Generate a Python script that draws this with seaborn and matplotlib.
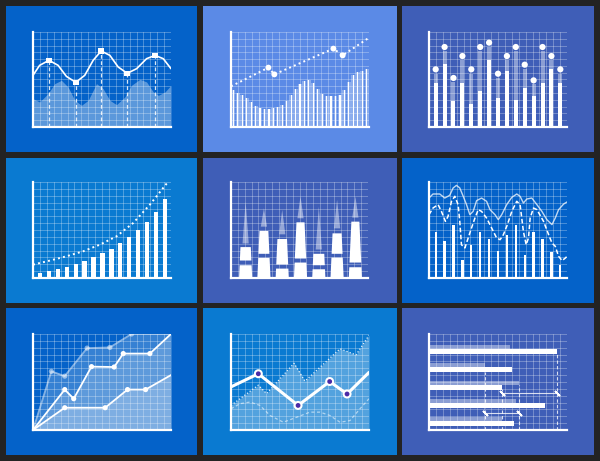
import numpy as np
import pandas as pd
import matplotlib
matplotlib.use("Agg")
import matplotlib.pyplot as plt
from matplotlib.patches import Rectangle
import seaborn as sns

sns.set_theme(style="white")

W, H = 600, 461
BG = "#232323"

# panel colours, row by row
panel_colors = ["#0462c9", "#5b8ae6", "#3f5eb7",
                "#0a7ad1", "#3f5eb7", "#0462c9",
                "#0462c9", "#0a7ad1", "#3f5eb7"]

## panel 1 - wave line + wavy area
p1_line_x = [0, 4.8, 11.6, 18.2, 24.2, 31.0, 37.5, 43.6, 49.4, 55.7, 61.7, 68.3, 75.1, 82.3, 88.4, 94.4, 100]
p1_line_y = [54.4, 64.9, 70.2, 64.9, 53.3, 47.0, 54.4, 70.2, 80.0, 75.4, 63.2, 56.5, 61.4, 71.9, 75.4, 71.9, 61.4]
p1_mark_x = [11.6, 31.0, 49.4, 68.3, 88.4]
p1_mark_y = [70.2, 47.0, 80.0, 56.5, 75.4]
p1_area_x = [0, 4.8, 10.9, 15.7, 20.6, 25.4, 30.3, 35.1, 40.0, 46.0, 50.8, 55.7, 60.5, 66.6, 71.4, 77.5, 82.3, 87.2, 90.8, 95.6, 100]
p1_area_y = [29.8, 26.3, 35.1, 45.6, 49.1, 42.1, 28.1, 22.8, 28.1, 45.6, 40.4, 28.1, 23.5, 31.6, 43.9, 50.2, 47.4, 36.8, 33.3, 36.8, 43.9]

## panel 2 - thin bars + dotted trend
p2_bars = [38.6, 36.1, 33.3, 30.9, 26.0, 22.5, 20.4, 19.3, 19.3, 20.0, 21.1, 23.5, 27.4, 33.3, 40.4, 45.6,
           48.4, 49.1, 46.7, 40.4, 35.1, 32.6, 32.3, 32.3, 34.0, 38.6, 47.4, 54.4, 57.9, 58.9, 60.7]
p2_trend_x = [0, 27.1, 31.4, 74.2, 80.9, 100]
p2_trend_y = [42.8, 62.5, 55.4, 82.5, 75.4, 94.0]

## panel 3 - bars with pale caps and dots
p3_solid = [46.7, 66.0, 27.4, 46.7, 23.9, 37.9, 70.2, 30.5, 58.6, 28.1, 41.1, 32.3, 46.7, 60.7, 46.7]
p3_pale = [56.1, 79.6, 47.4, 70.2, 56.1, 79.6, 84.2, 51.6, 70.2, 79.6, 61.4, 44.9, 79.6, 70.2, 56.1]
p3_dots = [60.7, 84.2, 51.6, 74.7, 60.7, 84.2, 88.8, 56.1, 74.7, 84.2, 65.6, 49.1, 84.2, 74.7, 60.7]

## panel 4 - growing bars + dotted curve
p4_bars = [5.2, 6.9, 9.4, 11.5, 14.6, 18.1, 21.5, 25.7, 30.6, 36.1, 42.7, 49.7, 58.7, 69.1, 82.6]
p4_curve_x = [0, 12.1, 24.2, 36.3, 48.4, 60.5, 72.6, 84.7, 97.6]
p4_curve_y = [13.9, 18.1, 22.6, 27.8, 34.7, 43.4, 57.3, 76.4, 99.7]

## panel 5 - towers
p5_base = [13.3, 21.0, 9.8, 16.1, 9.1, 21.3, 11.2]
p5_mid_lo = [18.2, 25.2, 14.0, 20.3, 13.3, 25.2, 16.1]
p5_mid_hi = [32.2, 49.0, 40.6, 58.0, 25.2, 46.5, 58.7]
p5_spike_lo = [36.0, 53.5, 45.5, 62.2, 29.7, 51.7, 62.9]
p5_tip = [79.7, 72.7, 71.0, 85.0, 74.5, 81.5, 85.0]

## panel 6 - bars + two wavy lines
p6_bars = [47.6, 38.9, 54.9, 19.1, 34.0, 47.6, 41.0, 27.8, 44.4, 54.9, 24.3, 47.6, 41.0, 27.1, 13.9]
p6_solid_x = [0, 2.9, 7.8, 11.4, 15.0, 17.5, 19.9, 22.3, 24.8, 27.2, 29.6, 32.0, 34.5, 38.1, 41.7, 44.2, 47.8,
              50.2, 52.7, 56.3, 60.0, 63.6, 66.0, 68.4, 70.9, 74.5, 78.2, 81.8, 85.4, 89.1, 91.5, 93.9, 97.6, 100]
p6_solid_y = [83.3, 87.5, 87.5, 83.3, 86.1, 93.8, 96.5, 93.8, 85.1, 76.4, 66.0, 69.4, 80.6, 83.3, 79.9, 71.2, 66.0,
              60.8, 66.0, 76.4, 84.0, 87.5, 85.1, 78.1, 82.3, 83.3, 76.4, 69.4, 60.8, 55.6, 62.5, 71.2, 77.1, 79.2]
p6_dash_x = [0, 2.9, 6.6, 9.0, 11.9, 13.8, 16.3, 18.7, 21.1, 22.3, 23.5, 26.0, 28.4, 30.8, 33.3, 35.7, 38.1,
             41.7, 45.4, 49.0, 51.5, 53.9, 56.8, 60.0, 63.6, 66.0, 68.4, 70.4, 72.1, 73.3, 75.7, 78.2, 83.0,
             86.7, 89.1, 91.5, 93.9, 96.4, 98.8, 100]
p6_dash_y = [66.0, 72.9, 76.4, 69.4, 59.0, 64.2, 79.9, 85.1, 76.4, 59.0, 34.7, 31.3, 41.7, 52.1, 62.5, 71.2, 69.4,
             62.5, 52.1, 41.7, 39.9, 45.1, 55.6, 69.4, 79.9, 76.4, 48.6, 34.7, 41.7, 62.5, 72.9, 71.2, 59.0,
             45.1, 36.5, 33.0, 22.6, 18.1, 20.8, 22.6]

## panel 7 - three rising areas
p7_top_x = [0, 13.3, 23.0, 39.2, 55.7, 71.4, 100]
p7_top_y = [0, 61.1, 56.1, 85.3, 86.0, 100, 100]
p7_mid_x = [0, 23.0, 29.5, 42.4, 58.8, 65.4, 84.7, 100]
p7_mid_y = [0, 42.1, 32.6, 66.0, 65.6, 79.6, 79.6, 100]
p7_low_x = [0, 23.0, 52.3, 68.5, 81.6, 100]
p7_low_y = [0, 23.2, 23.2, 42.1, 42.1, 57.2]

## panel 8 - zigzag area, thick line, dashed wave
p8_area_x = [0, 19.8, 25.8, 45.7, 53.6, 79.0, 90.6, 100]
p8_area_y = [25.6, 46.7, 37.9, 69.5, 50.9, 84.6, 78.2, 98.6]
p8_line_x = [0, 19.8, 48.6, 71.5, 84.1, 100]
p8_line_y = [44.9, 58.6, 25.6, 50.5, 37.5, 60.0]
p8_wave_x = [0, 6.5, 13.8, 21.0, 28.3, 37.9, 47.6, 57.2, 64.5, 71.7, 79.0, 86.2, 93.5, 100]
p8_wave_y = [22.1, 27.4, 29.1, 25.6, 15.1, 8.1, 13.3, 18.6, 18.6, 15.1, 8.1, 9.8, 22.1, 32.6]

## panel 9 - horizontal bar pairs
p9_groups = ["A", "B", "C", "D", "E"]
p9_pale = [58.7, 40.5, 65.3, 62.9, 52.7]
p9_solid = [92.7, 60.0, 52.7, 83.7, 61.9]
p9_guide_x = [40.5, 52.7, 65.3, 92.7]
p9_guide_top = [60.9, 42.3, 46.8, 79.6]
p9_span_y = [38.4, 17.3]
p9_span_lo = [52.7, 40.5]
p9_span_hi = [92.7, 65.3]

panels = [(6, 6, 197, 152), (203, 6, 397, 152), (402, 6, 594, 152),
          (6, 158, 197, 303), (203, 158, 397, 303), (402, 158, 594, 303),
          (6, 308, 197, 455), (203, 308, 397, 455), (402, 308, 594, 455)]
charts = [(33, 32, 171, 127), (231, 32, 369, 127), (429, 32, 567, 127),
          (33, 182, 171, 278), (231, 182, 368, 278), (429, 182, 567, 278),
          (33, 334, 171, 430), (231, 334, 369, 430), (429, 334, 567, 430)]


def rect(x0, y0, x1, y1):
    return [x0 / W, 1 - y1 / H, (x1 - x0) / W, (y1 - y0) / H]


def frame(box):
    ax = fig.add_axes(rect(*box))
    ax.set_facecolor("none")
    ax.set_xticks(np.linspace(0, 100, 21))
    ax.set_yticks(np.linspace(0, 100, 15))
    ax.tick_params(length=0, labelleft=False, labelbottom=False)
    ax.grid(True, color="white", alpha=0.33, lw=0.6)
    ax.set_axisbelow(True)
    for s in ["top", "right"]:
        ax.spines[s].set_visible(False)
    for s in ["left", "bottom"]:
        ax.spines[s].set_color("white")
        ax.spines[s].set_linewidth(1.6)
    frames.append(ax)
    return ax


def layer(box):
    ax = fig.add_axes(rect(*box))
    ax.set_facecolor("none")
    ax.axis("off")
    return ax


fig = plt.figure(figsize=(6, 4.61), dpi=100, facecolor=BG)
for (x0, y0, x1, y1), c in zip(panels, panel_colors):
    fig.add_artist(Rectangle((x0 / W, 1 - y1 / H), (x1 - x0) / W, (y1 - y0) / H,
                             transform=fig.transFigure, color=c, lw=0, zorder=-1))
frames = []
dash = (0, (3, 2))

# 1
ax = frame(charts[0])
ax.fill_between(p1_area_x, p1_area_y, color="white", alpha=0.35, lw=0)
ax.vlines(p1_mark_x, 0, p1_mark_y, colors="white", linestyles=dash, lw=0.9, alpha=0.85)
sns.lineplot(x=p1_line_x, y=p1_line_y, ax=ax, color="white", lw=1.2)
sns.scatterplot(x=p1_mark_x, y=p1_mark_y, ax=ax, color="white", marker="s", s=16, edgecolor="none", zorder=5)

# 2
ax = frame(charts[1])
bx = layer(charts[1])
cats = np.arange(len(p2_bars))
sns.barplot(x=cats, y=p2_bars, ax=bx, color="white", width=0.9, alpha=0.3, lw=0, saturation=1, errorbar=None)
sns.barplot(x=cats, y=p2_bars, ax=bx, color="white", width=0.28, lw=0, saturation=1, errorbar=None)
bx.set_xlim(-0.55, len(p2_bars) - 0.45)
bx.set_ylim(0, 100)
sns.lineplot(x=p2_trend_x, y=p2_trend_y, ax=ax, color="white", lw=1.4, ls=":")
sns.scatterplot(x=p2_trend_x[1:-1], y=p2_trend_y[1:-1], ax=ax, color="white", s=18, edgecolor="none", zorder=5)

# 3
ax = frame(charts[2])
bx = layer(charts[2])
cats = np.arange(len(p3_solid))
sns.barplot(x=cats, y=p3_pale, ax=bx, color="white", width=0.45, alpha=0.4, lw=0, saturation=1, errorbar=None)
sns.barplot(x=cats, y=p3_solid, ax=bx, color="white", width=0.45, lw=0, saturation=1, errorbar=None)
sns.scatterplot(x=cats, y=p3_dots, ax=bx, color="white", s=20, edgecolor="none", zorder=5)
bx.set_xlim(-0.75, len(cats) - 0.25)
bx.set_ylim(0, 100)

# 4
ax = frame(charts[3])
bx = layer(charts[3])
cats = np.arange(len(p4_bars))
sns.barplot(x=cats, y=p4_bars, ax=bx, color="white", width=0.5, lw=0, saturation=1, errorbar=None)
bx.set_xlim(-0.8, len(cats) - 0.3)
bx.set_ylim(0, 100)
sns.lineplot(x=p4_curve_x, y=p4_curve_y, ax=ax, color="white", lw=1.4, ls=":")

# 5
ax = frame(charts[4])
bx = layer(charts[4])


def half(h):
    # towers narrow as they rise
    return 0.36 * (1 - h / 150)


for i in range(len(p5_base)):
    for lo, hi in [(0, p5_base[i]), (p5_mid_lo[i], p5_mid_hi[i])]:
        bx.fill([i - half(lo), i + half(lo), i + half(hi), i - half(hi)], [lo, lo, hi, hi], color="white", lw=0)
    bx.fill([i - 0.17, i + 0.17, i], [p5_spike_lo[i], p5_spike_lo[i], p5_tip[i]], color="white", alpha=0.45, lw=0)
bx.set_xlim(-0.8, 6.69)
bx.set_ylim(0, 100)

# 6
ax = frame(charts[5])
bx = layer(charts[5])
cats = np.arange(len(p6_bars))
sns.barplot(x=cats, y=p6_bars, ax=bx, color="white", width=0.26, lw=0, saturation=1, errorbar=None)
bx.set_xlim(-0.75, len(cats) - 0.25)
bx.set_ylim(0, 100)
sns.lineplot(x=p6_solid_x, y=p6_solid_y, ax=ax, color="white", lw=1.0, alpha=0.75)
sns.lineplot(x=p6_dash_x, y=p6_dash_y, ax=ax, color="white", lw=1.1, ls=(0, (3, 1.6)))

# 7
ax = frame(charts[6])
for xs, ys, a in [(p7_top_x, p7_top_y, 0.5), (p7_mid_x, p7_mid_y, 1), (p7_low_x, p7_low_y, 1)]:
    ax.fill_between(xs, ys, color="white", alpha=0.2, lw=0)
    sns.lineplot(x=xs, y=ys, ax=ax, color="white", lw=1.3, alpha=a)
    sns.scatterplot(x=xs[1:-1], y=ys[1:-1], ax=ax, color="white", s=14, edgecolor="none", alpha=a, zorder=5)

# 8
ax = frame(charts[7])
ax.fill_between(p8_area_x, p8_area_y, color="white", alpha=0.3, lw=0)
sns.lineplot(x=p8_area_x, y=p8_area_y, ax=ax, color="white", lw=0.9, ls=":", alpha=0.9)
sns.lineplot(x=p8_wave_x, y=p8_wave_y, ax=ax, color="white", lw=0.9, ls=(0, (2.5, 2)), alpha=0.55)
sns.lineplot(x=p8_line_x, y=p8_line_y, ax=ax, color="white", lw=2.2)
sns.scatterplot(x=p8_line_x[1:-1], y=p8_line_y[1:-1], ax=ax, color="white", s=42, edgecolor="none", zorder=5)
sns.scatterplot(x=p8_line_x[1:-1], y=p8_line_y[1:-1], ax=ax, color="#4b2aa6", s=12, edgecolor="none", zorder=6)

# 9
ax = frame(charts[8])
bx = layer(charts[8])
df9 = pd.DataFrame({"grp": p9_groups * 2, "val": p9_pale + p9_solid,
                    "kind": ["pale"] * len(p9_groups) + ["solid"] * len(p9_groups)})
sns.barplot(data=df9, y="grp", x="val", hue="kind", hue_order=["pale", "solid"], orient="h", ax=bx,
            palette={"pale": "white", "solid": "white"}, width=0.5, lw=0, saturation=1,
            errorbar=None, legend=False)
for p in bx.containers[0]:
    p.set_alpha(0.4)
bx.set_xlim(0, 100)
bx.set_ylim(4.48, -0.84)
ax.vlines(p9_guide_x, 0, p9_guide_top, colors="white", linestyles=dash, lw=0.8, alpha=0.8)
ax.hlines(p9_span_y, p9_span_lo, p9_span_hi, colors="white", lw=0.8, alpha=0.8)
for y, lo, hi in zip(p9_span_y, p9_span_lo, p9_span_hi):
    ax.plot([lo, hi], [y, y], ls="none", marker=(2, 2, 45), ms=5, mew=1.2, color="white")

for ax in frames:
    ax.set_xlim(0, 100)
    ax.set_ylim(0, 100)

fig.savefig("out.png", dpi=100, facecolor=BG)
